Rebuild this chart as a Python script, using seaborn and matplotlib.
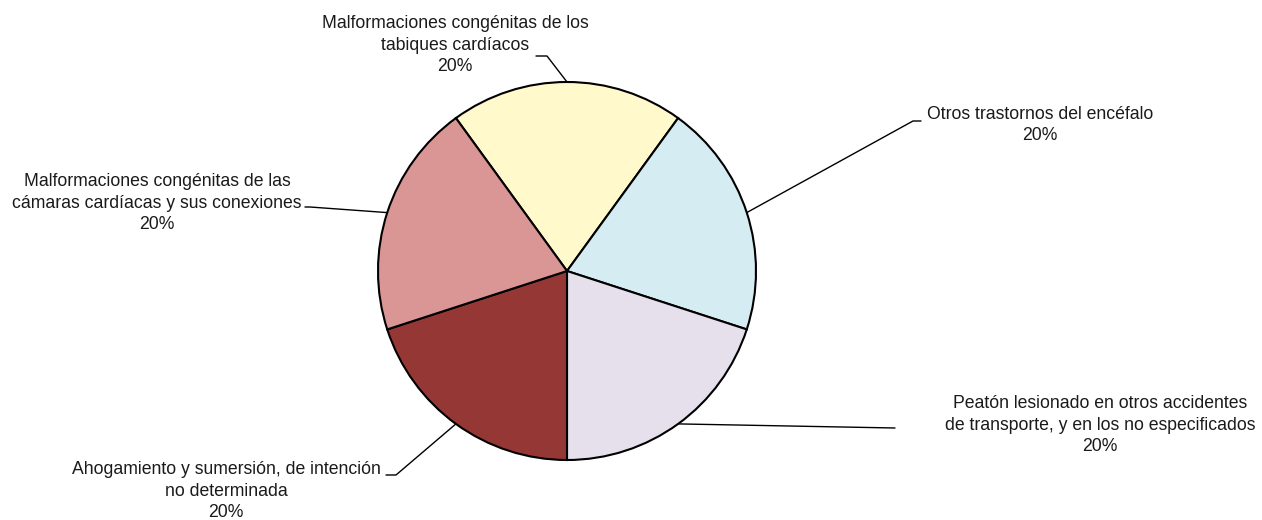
import numpy as np
import matplotlib.pyplot as plt
import seaborn as sns

# datos del gráfico
categorias = [
    "Malformaciones congénitas de los\ntabiques cardíacos",
    "Otros trastornos del encéfalo",
    "Peatón lesionado en otros accidentes\nde transporte, y en los no especificados",
    "Ahogamiento y sumersión, de intención\nno determinada",
    "Malformaciones congénitas de las\ncámaras cardíacas y sus conexiones",
]
porcentajes = [20, 20, 20, 20, 20]
colores = ["#FFF9CC", "#D5ECF3", "#E6E0EC", "#953735", "#D99694"]

# posicion de etiquetas (px) y codo de la linea guia
etiquetas = [
    dict(xy=(455, 45), codo=(547, 464), fin=(536, 464)),
    dict(xy=(1040, 125), codo=(913, 399), fin=(921, 399)),
    dict(xy=(1100, 425), codo=(895, 92), fin=(895, 92)),
    dict(xy=(226, 491), codo=(396, 45), fin=(386, 45)),
    dict(xy=(157, 203), codo=(310, 313), fin=(305, 313)),
]

sns.set_theme(style="white")
plt.rcParams["font.family"] = ["Liberation Sans", "DejaVu Sans"]

W, H = 1262, 520
fig = plt.figure(figsize=(W / 100, H / 100), dpi=100)
ax = fig.add_axes([0, 0, 1, 1])

cx, cy, r = 567, H - 271, 189
wedges, _ = ax.pie(
    porcentajes, colors=colores, startangle=126, counterclock=False,
    center=(cx, cy), radius=r, frame=True,
    wedgeprops=dict(edgecolor="black", linewidth=1.5),
)
ax.set_xlim(0, W)
ax.set_ylim(0, H)
ax.axis("off")

for w, cat, pct, et in zip(wedges, categorias, porcentajes, etiquetas):
    ang = np.deg2rad((w.theta1 + w.theta2) / 2)
    px, py = cx + r * np.cos(ang), cy + r * np.sin(ang)
    ax.plot([px, et["codo"][0], et["fin"][0]], [py, et["codo"][1], et["fin"][1]],
            color="black", linewidth=1)
    x, y = et["xy"]
    ax.text(x, H - y, f"{cat}\n{pct}%", ha="center", va="center",
            fontsize=12.7, color="#1a1a1a", linespacing=1.33)

fig.savefig("out.png", dpi=100)
